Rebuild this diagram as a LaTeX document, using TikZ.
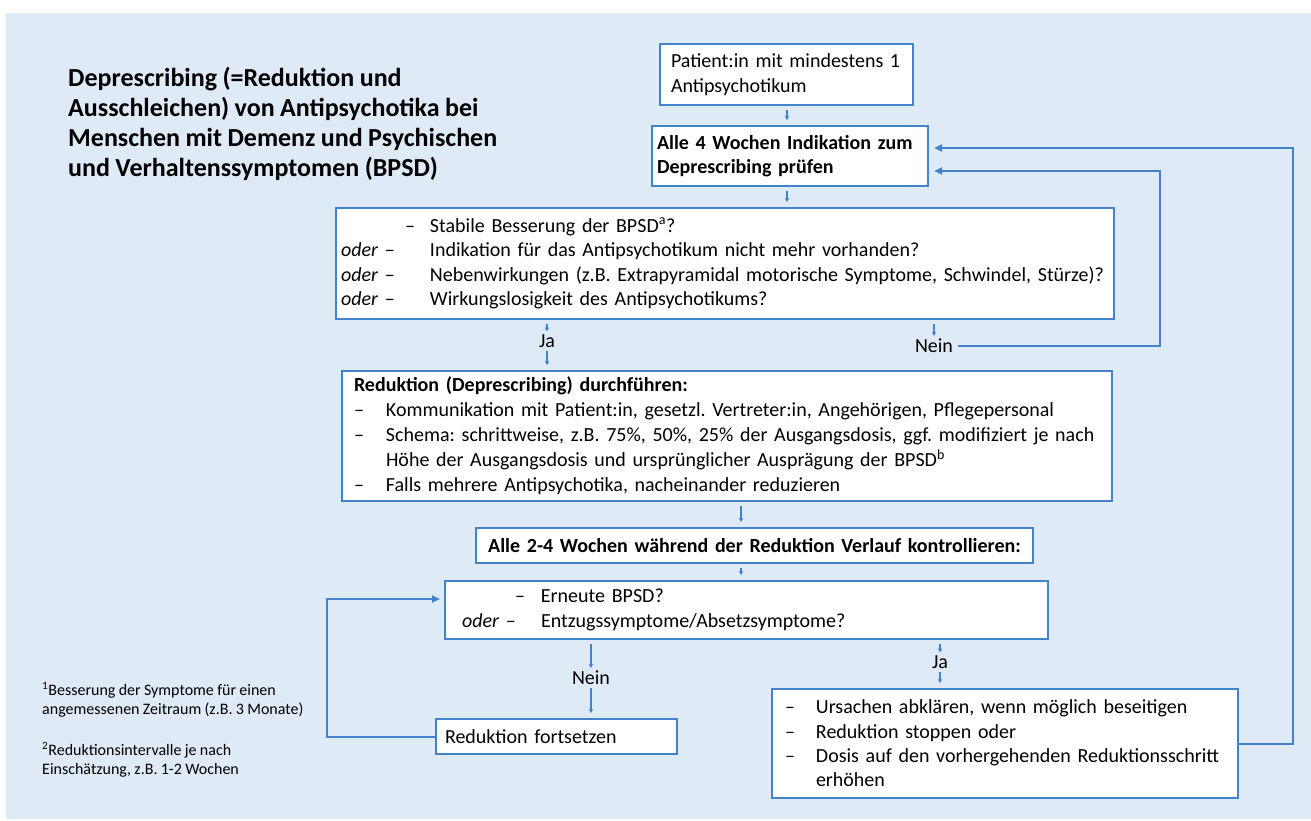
\documentclass[tikz,border=0pt]{standalone}
\usepackage{fontspec}
\setmainfont{Carlito}[WordSpace=0.92]
\usepackage{xcolor}
\usetikzlibrary{arrows.meta,positioning}

\definecolor{bgblue}{RGB}{222,234,246}
\definecolor{lineblue}{RGB}{66,131,204}

% oder-column and plain dash in the question boxes
\newcommand{\oderitem}[2]{\makebox[#2][l]{\hspace*{#1}\textit{oder}~–}}
\newcommand{\dashitem}[2]{\makebox[#2][l]{\hspace*{#1}–}}

\begin{document}
\frenchspacing
\begin{tikzpicture}[x=1pt,y=-1pt,
    box/.style={draw=lineblue, line width=2pt, fill=white, anchor=north west,
      inner ysep=0pt, align=left,
      font=\fontsize{20}{24.4}\selectfont},
    tip/.style={draw=lineblue, line width=1.6pt, -{Stealth[length=4pt,width=4.5pt]},
      shorten <=4pt, shorten >=5pt},
    loopline/.style={draw=lineblue, line width=2pt, -{Triangle[length=8pt,width=7pt]}},
    lbl/.style={font=\fontsize{20}{24}\selectfont, inner sep=1pt}]

  % background
  \useasboundingbox (0,0) rectangle (1311,821);
  \fill[bgblue] (6,13) rectangle (1311,819);

  % title and footnotes
  \node[anchor=north west, align=left, inner sep=0pt,
    font=\bfseries\fontsize{26}{30}\selectfont] (title) at (68,67)
    {Deprescribing (=Reduktion und\\Ausschleichen) von Antipsychotika bei\\
     Menschen mit Demenz und Psychischen\\und Verhaltenssymptomen (BPSD)};
  \node[anchor=north west, align=left, inner sep=0pt,
    font=\fontsize{16}{18.5}\selectfont] (notes) at (42,682)
    {\textsuperscript{1}Besserung der Symptome für einen\\
     angemessenen Zeitraum (z.B. 3 Monate)\\[23pt]
     \textsuperscript{2}Reduktionsintervalle je nach\\
     Einschätzung, z.B. 1-2 Wochen};

  % the boxes
  \node[box, inner xsep=11pt, text width=231pt, minimum height=61pt] (start) at (659,43)
    {Patient:in mit mindestens 1\\Antipsychotikum};
  \node[box, inner xsep=5pt, text width=266pt, minimum height=60pt,
    font=\bfseries\fontsize{20}{24.4}\selectfont]
    (check) at (651,125) {Alle 4 Wochen Indikation zum\\Deprescribing prüfen};
  \node[box, inner xsep=5pt, text width=768pt, minimum height=111pt] (crit) at (335,207)
    {\dashitem{64pt}{89pt}Stabile Besserung der BPSD\textsuperscript{a}?\\
     \oderitem{0pt}{89pt}Indikation für das Antipsychotikum nicht mehr vorhanden?\\
     \oderitem{0pt}{89pt}Nebenwirkungen (z.B. Extrapyramidal motorische Symptome, Schwindel, Stürze)?\\
     \oderitem{0pt}{89pt}Wirkungslosigkeit des Antipsychotikums?};
  \node[box, inner xsep=12pt, text width=746pt, minimum height=130pt,
    font=\fontsize{20}{25}\selectfont] (reduce) at (341,370)
    {\textbf{Reduktion (Deprescribing) durchführen:}\\
     \makebox[32pt][l]{–}Kommunikation mit Patient:in, gesetzl. Vertreter:in, Angehörigen, Pflegepersonal\\
     \makebox[32pt][l]{–}Schema: schrittweise, z.B. 75\%, 50\%, 25\% der Ausgangsdosis, ggf. modifiziert je nach\\
     \hspace*{32pt}Höhe der Ausgangsdosis und ursprünglicher Ausprägung der BPSD\textsuperscript{b}\\
     \makebox[32pt][l]{–}Falls mehrere Antipsychotika, nacheinander reduzieren};
  \node[box, inner xsep=8pt, text width=541pt, minimum height=35pt, align=center,
    font=\bfseries\fontsize{20}{24.4}\selectfont] (monitor) at (475,527)
    {Alle 2-4 Wochen während der Reduktion Verlauf kontrollieren:};
  \node[box, inner xsep=5pt, text width=593pt, minimum height=58pt] (recur) at (444,580)
    {\dashitem{65pt}{91pt}Erneute BPSD?\\
     \oderitem{12pt}{91pt}Entzugssymptome/Absetzsymptome?};
  \node[box, inner xsep=9pt, text width=223pt, minimum height=35pt] (cont) at (435,718)
    {Reduktion fortsetzen};
  \node[box, inner xsep=13pt, text width=440pt, minimum height=109pt] (stop) at (771,688)
    {\makebox[31pt][l]{–}Ursachen abklären, wenn möglich beseitigen\\
     \makebox[31pt][l]{–}Reduktion stoppen oder\\
     \makebox[31pt][l]{–}Dosis auf den vorhergehenden Reduktionsschritt\\
     \hspace*{31pt}erhöhen};

  % the labels
  \node[lbl] (ja1) at (547,341) {Ja};
  \node[lbl] (nein1) at (934,346) {Nein};
  \node[lbl] (nein2) at (591,678) {Nein};
  \node[lbl] (ja2) at (940,662) {Ja};

  % corners of the loops
  \coordinate (loopA) at (1160,171);
  \coordinate (loopB) at (1293,148);
  \coordinate (loopC) at (327,599);
  \coordinate (topline) at (787,0);
  \coordinate (midline) at (741,0);

  % short arrows
  \draw[tip] (start.south -| topline) -- (check.north -| topline);
  \draw[tip] (check.south -| topline) -- (crit.north -| topline);
  \draw[tip, shorten >=2pt] (ja1 |- crit.south) -- (ja1.north);
  \draw[tip, shorten <=2pt] (ja1.south) -- (ja1 |- reduce.north);
  \draw[tip, shorten >=2pt] (nein1 |- crit.south) -- (nein1.north);
  \draw[tip] (reduce.south -| midline) -- (monitor.north -| midline);
  \draw[tip] (monitor.south -| midline) -- (recur.north -| midline);
  \draw[tip, shorten >=2pt] (nein2 |- recur.south) -- (nein2.north);
  \draw[tip, shorten <=2pt] (nein2.south) -- (nein2 |- cont.north);
  \draw[tip, shorten >=2pt] (ja2 |- recur.south) -- (ja2.north);
  \draw[tip, shorten <=2pt] (ja2.south) -- (ja2 |- stop.north);

  % loops back
  \draw[loopline, shorten <=4pt, shorten >=5pt] (nein1.east) -| (loopA) -- (loopA -| check.east);
  \draw[loopline, shorten >=5pt] (stop.east) -| (loopB) -- (loopB -| check.east);
  \draw[loopline, shorten >=4pt] (cont.west) -| (loopC) -- (loopC -| recur.west);
\end{tikzpicture}
\end{document}
